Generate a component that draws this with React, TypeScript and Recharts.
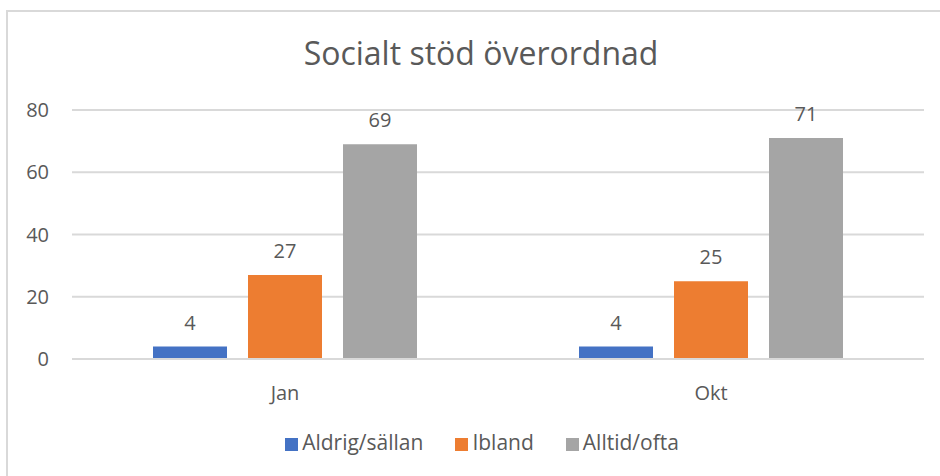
import React from "react";
import { BarChart, Bar, XAxis, YAxis, CartesianGrid, Legend, LabelList } from "recharts";

const categories = ["Jan", "Okt"];
const seriesNames = ["Aldrig/sällan", "Ibland", "Alltid/ofta"];
const aldrigSallan = [4, 4];
const ibland = [27, 25];
const alltidOfta = [69, 71];
const yTicks = [0, 20, 40, 60, 80];

const data = categories.map((name, i) => ({
  name,
  aldrig: aldrigSallan[i],
  ibland: ibland[i],
  alltid: alltidOfta[i]
}));

const font = "'Open Sans', sans-serif";
const textColor = "#595959";

export default function App() {
  return (
    <div
      style={{
        position: "absolute",
        left: 0,
        top: 0,
        width: 940,
        height: 476,
        overflow: "hidden",
        background: "#fff",
        fontFamily: font
      }}
    >
      <div
        style={{
          position: "absolute",
          left: 6,
          top: 10,
          width: 960,
          height: 500,
          border: "2px solid #d9d9d9"
        }}
      />
      <div
        style={{
          position: "absolute",
          left: 0,
          top: 32,
          width: 962,
          textAlign: "center",
          fontSize: 32,
          color: textColor,
          lineHeight: "42px"
        }}
      >
        Socialt stöd överordnad
      </div>
      <div style={{ position: "absolute", left: 0, top: 0 }}>
        <BarChart
          width={940}
          height={476}
          data={data}
          margin={{ top: 110, right: 16, bottom: 77, left: 0 }}
          barGap={21}
        >
          <CartesianGrid vertical={false} stroke="#d9d9d9" strokeWidth={2} />
          <XAxis
            dataKey="name"
            height={40}
            axisLine={{ stroke: "#d9d9d9", strokeWidth: 2 }}
            tickLine={false}
            tickSize={0}
            tickMargin={27}
            tick={{ fill: textColor, fontSize: 20, fontFamily: font }}
          />
          <YAxis
            width={72}
            domain={[0, 80]}
            ticks={yTicks}
            axisLine={false}
            tickLine={false}
            tickSize={0}
            tickMargin={23}
            tick={{ fill: textColor, fontSize: 20, fontFamily: font }}
          />
          <Legend
            layout="horizontal"
            verticalAlign="middle"
            align="center"
            iconType="square"
            iconSize={13}
            itemSorter={(item: any) => seriesNames.indexOf(item.value)}
            wrapperStyle={{ top: 428, left: 12, width: 972, fontSize: 21, fontFamily: font }}
            formatter={(value) => <span style={{ color: textColor, marginRight: 22 }}>{value}</span>}
          />
          <Bar dataKey="aldrig" name={seriesNames[0]} fill="#4472C4" barSize={74} isAnimationActive={false}>
            <LabelList dataKey="aldrig" position="top" offset={17} fill={textColor} fontSize={20} fontFamily={font} />
          </Bar>
          <Bar dataKey="ibland" name={seriesNames[1]} fill="#ED7D31" barSize={74} isAnimationActive={false}>
            <LabelList dataKey="ibland" position="top" offset={17} fill={textColor} fontSize={20} fontFamily={font} />
          </Bar>
          <Bar dataKey="alltid" name={seriesNames[2]} fill="#A5A5A5" barSize={74} isAnimationActive={false}>
            <LabelList dataKey="alltid" position="top" offset={17} fill={textColor} fontSize={20} fontFamily={font} />
          </Bar>
        </BarChart>
      </div>
    </div>
  );
}
